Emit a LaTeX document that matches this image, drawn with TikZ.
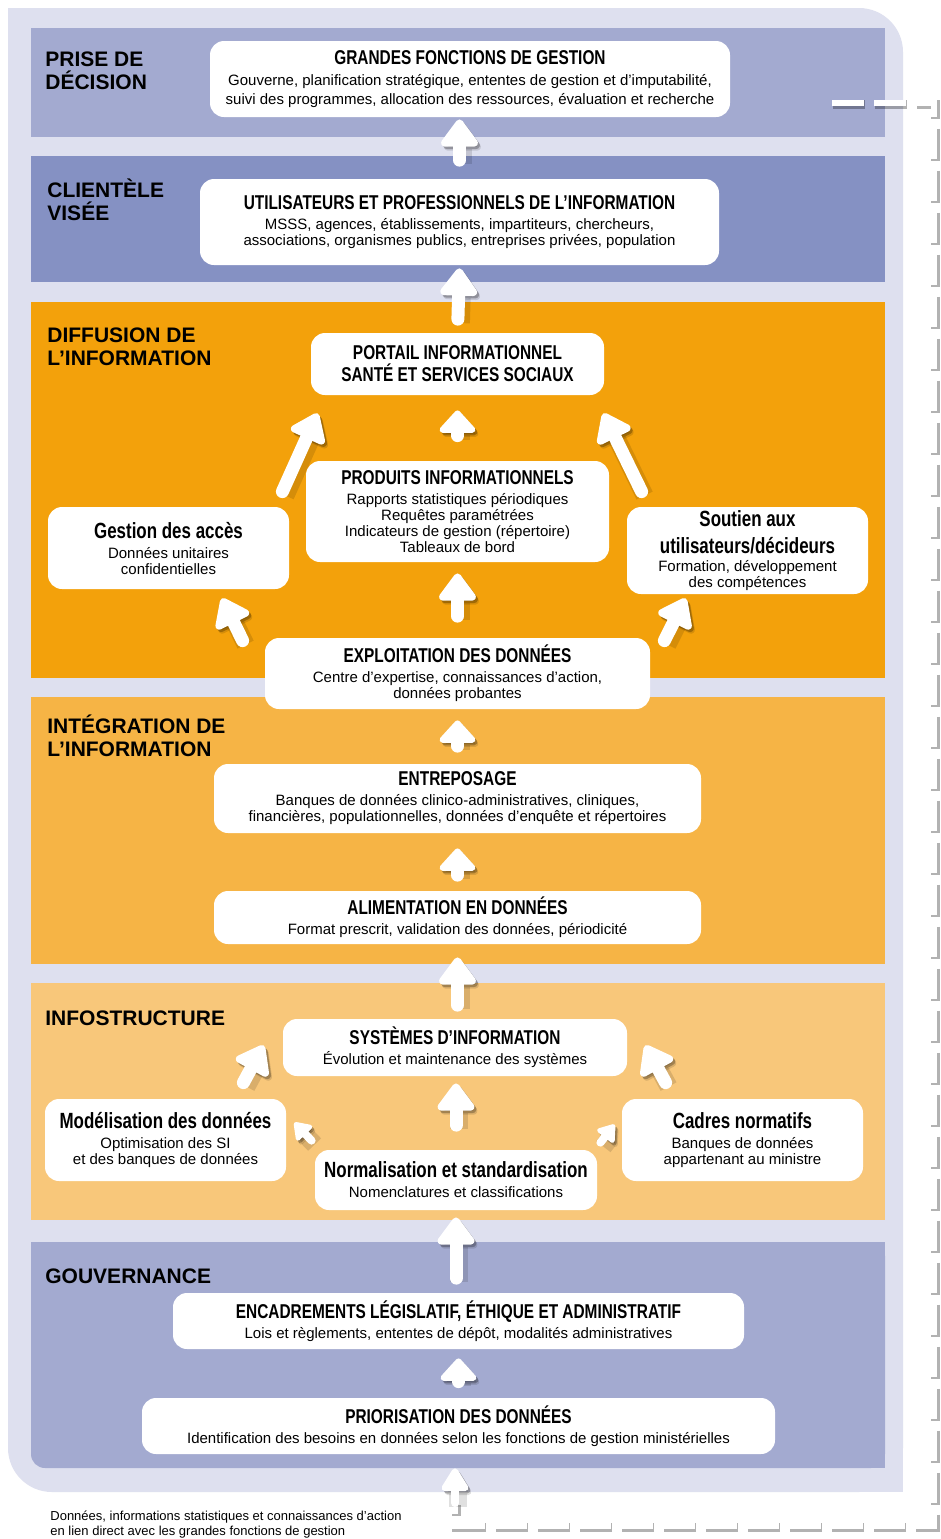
\documentclass[tikz,border=0pt]{standalone}
\usepackage{fontspec}
\setmainfont{Liberation Sans}
\newfontfamily\condfont[FakeStretch=0.77]{Liberation Sans}
\usetikzlibrary{arrows.meta,backgrounds}

\definecolor{panelbg}{HTML}{DEE0EF}
\definecolor{lavender}{HTML}{A3AAD0}
\definecolor{periwinkle}{HTML}{8591C3}
\definecolor{deeporange}{HTML}{F3A10B}
\definecolor{midorange}{HTML}{F6B445}
\definecolor{paleorange}{HTML}{F8C77A}

\newcommand{\boxtitle}[1]{{\condfont\bfseries\fontsize{10}{12}\selectfont #1}}
\newcommand{\boxsubtitle}[1]{{\condfont\bfseries\fontsize{11}{13}\selectfont #1}}

\begin{document}
\begin{tikzpicture}[x=0.5pt,y=-0.5pt,
    box/.style={fill=white, rounded corners=7pt, inner sep=0pt, align=center,
      font=\fontsize{7.5}{8}\selectfont},
    bandlabel/.style={anchor=north west, inner sep=0pt, align=left,
      font=\bfseries\fontsize{10.5}{11.75}\selectfont},
    arrowshadow/.style={preaction={draw=black, opacity=0.12, line width=9pt,
        transform canvas={shift={(1.5pt,-2pt)}}},
      preaction={draw=black, opacity=0.25, transform canvas={shift={(1pt,-1.2pt)}}}},
    bigarrow/.style={draw=white, line width=6.5pt, line cap=round,
      -{Triangle[width=21pt,length=15pt,round]}, arrowshadow},
    droparrow/.style={bigarrow, -{Triangle[width=21pt,length=12pt,round]}},
    smallarrow/.style={bigarrow, line width=4pt, -{Triangle[width=12pt,length=9pt,round]}},
    loopline/.style={draw=white, line width=3pt, dash pattern=on 16pt off 5pt,
      preaction={draw=black, opacity=0.3, line width=4.5pt, dash pattern=on 16pt off 5pt,
        transform canvas={shift={(0.5pt,-0.8pt)}}}}
    ]
    \useasboundingbox (0,0) rectangle (941,1539);

    % boxes
    \node[box, minimum width=260pt, minimum height=38pt] (fonctions) at (470,79)
      {\boxtitle{GRANDES FONCTIONS DE GESTION}\\[2.5pt]
       Gouverne, planification stratégique, ententes de gestion et d’imputabilité,\\[1.5pt]
       suivi des programmes, allocation des ressources, évaluation et recherche};
    \node[box, minimum width=259.5pt, minimum height=43pt] (usagers) at (459.5,222)
      {\boxtitle{UTILISATEURS ET PROFESSIONNELS DE L’INFORMATION}\\[2pt]
       MSSS, agences, établissements, impartiteurs, chercheurs,\\
       associations, organismes publics, entreprises privées, population};
    \node[box, minimum width=146.5pt, minimum height=31pt] (portail) at (457.5,364)
      {\boxtitle{PORTAIL INFORMATIONNEL}\\[1pt] \boxtitle{SANTÉ ET SERVICES SOCIAUX}};
    \node[box, minimum width=151.5pt, minimum height=50.5pt] (produits) at (457.5,511.5)
      {\boxtitle{PRODUITS INFORMATIONNELS}\\[2pt]
       Rapports statistiques périodiques\\ Requêtes paramétrées\\
       Indicateurs de gestion (répertoire)\\ Tableaux de bord};
    \node[box, minimum width=120.5pt, minimum height=41pt] (acces) at (168.5,548)
      {\boxsubtitle{Gestion des accès}\\[2pt] Données unitaires\\ confidentielles};
    \node[box, minimum width=120.5pt, minimum height=43.5pt] (soutien) at (747.5,550.5)
      {\boxsubtitle{Soutien aux}\\[4pt] \boxsubtitle{utilisateurs/décideurs}\\[1pt]
       Formation, développement\\ des compétences};
    \node[box, minimum width=192.5pt, minimum height=35.5pt] (exploit) at (457.5,673.5)
      {\boxtitle{EXPLOITATION DES DONNÉES}\\[2pt]
       Centre d’expertise, connaissances d’action,\\ données probantes};
    \node[box, minimum width=243.5pt, minimum height=34.5pt] (entrepo) at (457.5,798.5)
      {\boxtitle{ENTREPOSAGE}\\[2pt]
       Banques de données clinico-administratives, cliniques,\\
       financières, populationnelles, données d’enquête et répertoires};
    \node[box, minimum width=243.5pt, minimum height=26.5pt] (aliment) at (457.5,917.5)
      {\boxtitle{ALIMENTATION EN DONNÉES}\\[2pt]
       Format prescrit, validation des données, périodicité};
    \node[box, minimum width=172pt, minimum height=28.5pt] (systemes) at (455,1047.5)
      {\boxtitle{SYSTÈMES D’INFORMATION}\\[2pt] Évolution et maintenance des systèmes};
    \node[box, minimum width=120.5pt, minimum height=41pt] (modelis) at (165.5,1140)
      {\boxsubtitle{Modélisation des données}\\[2pt] Optimisation des SI\\ et des banques de données};
    \node[box, minimum width=120.5pt, minimum height=41pt] (cadres) at (742.5,1140)
      {\boxsubtitle{Cadres normatifs}\\[2pt] Banques de données\\ appartenant au ministre};
    \node[box, minimum width=141pt, minimum height=30pt] (normal) at (456,1180)
      {\boxsubtitle{Normalisation et standardisation}\\[2pt] Nomenclatures et classifications};
    \node[box, minimum width=285.5pt, minimum height=28pt] (encadr) at (458.5,1321)
      {\boxtitle{ENCADREMENTS LÉGISLATIF, ÉTHIQUE ET ADMINISTRATIF}\\[2pt]
       Lois et règlements, ententes de dépôt, modalités administratives};
    \node[box, minimum width=316.5pt, minimum height=28pt] (prior) at (458.5,1426)
      {\boxtitle{PRIORISATION DES DONNÉES}\\[2pt]
       Identification des besoins en données selon les fonctions de gestion ministérielles};

    % band labels
    \node[bandlabel] (lblprise) at (45,51) {PRISE DE\\DÉCISION};
    \node[bandlabel] (lblclient) at (47,178) {CLIENTÈLE\\VISÉE};
    \node[bandlabel] (lbldiffus) at (47,327) {DIFFUSION DE\\L’INFORMATION};
    \node[bandlabel] (lblinteg) at (47,714) {INTÉGRATION DE\\L’INFORMATION};
    \node[bandlabel] (lblinfra) at (45,1010) {INFOSTRUCTURE};
    \node[bandlabel] (lblgouv) at (45,1268) {GOUVERNANCE};

    \node[anchor=north west, inner sep=0pt, align=left,
      font=\fontsize{6.5}{7.5}\selectfont] (legende) at (50,1511)
      {Données, informations statistiques et connaissances d’action\\
       en lien direct avec les grandes fonctions de gestion};

    \coordinate (loopstart) at (832,103);
    \coordinate (loopcorner) at (934,1526);
    \coordinate (loopend) at (455,1503);

    \begin{scope}[on background layer]
    \fill[white] (0,0) rectangle (941,1539);
    \fill[panelbg, rounded corners=22pt] (8,8) rectangle (903,1492);
    \fill[panelbg] (8,8) rectangle (80,80);
    \fill[panelbg] (830,1420) rectangle (903,1492);
    \fill[lavender] (31,28) rectangle (885,137);
    \fill[periwinkle] (31,156) rectangle (885,282);
    \fill[deeporange] (31,302) rectangle (885,678);
    \fill[midorange] (31,697) rectangle (885,964);
    \fill[paleorange] (31,983) rectangle (885,1220);
    \fill[lavender, rounded corners=7pt] (31,1242) rectangle (885,1468);
    \fill[lavender] (31,1242) rectangle (80,1300);
    \fill[lavender] (800,1242) rectangle (885,1468);

    % arrows
    \draw[bigarrow, shorten <=9.25pt, shorten >=1pt] (usagers.north) -- (usagers.north |- fonctions.south);
    \draw[bigarrow, shorten <=6.75pt, shorten >=1.5pt] (portail.north) -- (usagers.south);
    \draw[droparrow, shorten <=12.5pt, shorten >=7.5pt] (produits.north) -- (portail.south);
    \draw[bigarrow] ([shift={(-7,-15)}]acces.north east) -- ([shift={(7,18)}]portail.south west);
    \draw[bigarrow] ([shift={(15,-15)}]soutien.north west) -- ([shift={(-1,18)}]portail.south east);
    \draw[bigarrow, shorten <=10.75pt, shorten >=5.5pt] (exploit.north) -- (produits.south);
    \draw[bigarrow] ([shift={(-22,3)}]exploit.north west) -- ([shift={(53.5,9)}]acces.south);
    \draw[bigarrow] ([shift={(14,3)}]exploit.north east) -- ([shift={(59,4)}]soutien.south west);
    \draw[droparrow, shorten <=8.75pt, shorten >=5.5pt] (entrepo.north) -- (exploit.south);
    \draw[droparrow, shorten <=7.75pt, shorten >=7.5pt] (aliment.north) -- (entrepo.south);
    \draw[bigarrow, shorten <=6.75pt, shorten >=6.5pt] (aliment.south |- systemes.north) -- (aliment.south);
    \draw[bigarrow, shorten <=12.25pt, shorten >=3.5pt] (normal.north) -- (normal.north |- systemes.south);
    \draw[bigarrow] ([shift={(-43,-16)}]modelis.north east) -- ([shift={(-19,-31)}]systemes.south west);
    \draw[bigarrow] ([shift={(44,-16)}]cadres.north west) -- ([shift={(18,-31)}]systemes.south east);
    \draw[smallarrow] ([shift={(-3,-9)}]normal.north west) -- ([shift={(8,24)}]modelis.north east);
    \draw[smallarrow] ([shift={(3,-7)}]normal.north east) -- ([shift={(-7,26)}]cadres.north west);
    \draw[bigarrow, shorten <=7.25pt, shorten >=3.5pt] (normal.south |- encadr.north) -- (normal.south);
    \draw[droparrow, shorten <=8pt, shorten >=4.5pt] (prior.north) -- (encadr.south);
    \draw[loopline] (loopstart) -| (loopcorner) -| (loopend);
    \draw[smallarrow, -{Triangle[width=15pt,length=13pt,round]}, shorten >=7pt] (loopend) -- (loopend |- prior.south);
    \end{scope}
    %
\end{tikzpicture}
\end{document}
